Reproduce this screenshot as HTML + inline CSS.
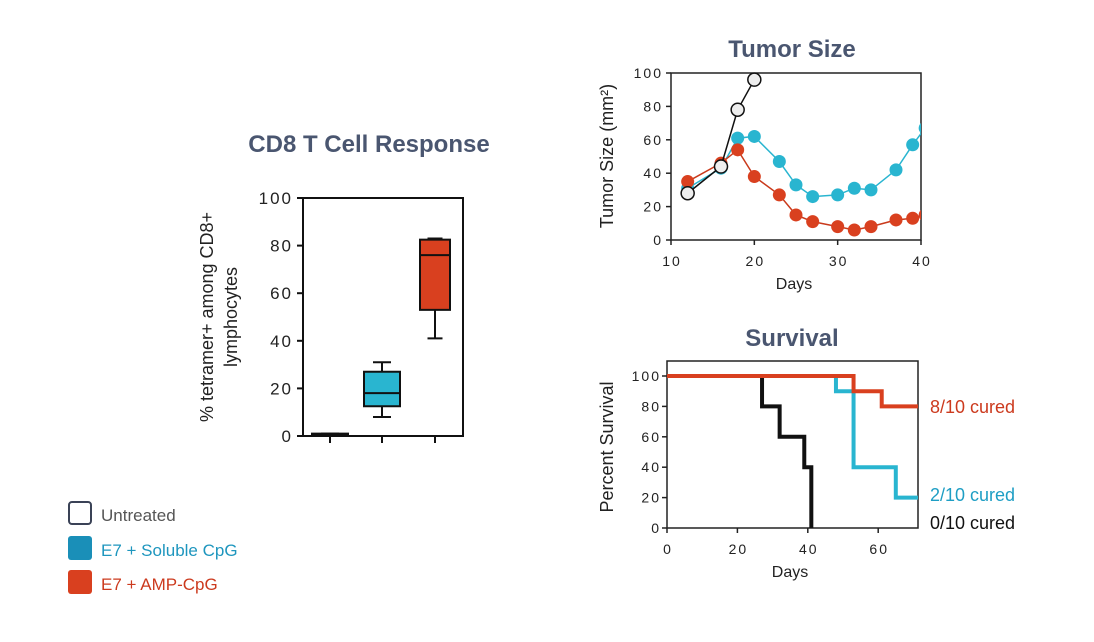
<!DOCTYPE html>
<html><head><meta charset="utf-8"><style>
html,body{margin:0;padding:0;background:#fff;}
svg{display:block;font-family:"Liberation Sans",sans-serif;}
.tick{font-size:14px;fill:#222;letter-spacing:2px;}
.ttl{font-size:24px;font-weight:bold;fill:#4a5670;}
</style></head><body>
<svg id="svg" width="1094" height="642" viewBox="0 0 1094 642">
<text class="ttl" x="369" y="152" text-anchor="middle">CD8 T Cell Response</text>
<text class="ttl" x="792" y="57" text-anchor="middle">Tumor Size</text>
<text class="ttl" x="792" y="346" text-anchor="middle">Survival</text>
<g id="box"></g>
<g id="tumor"></g>
<g id="surv"></g>
<g>
<rect x="69" y="502" width="22" height="22" rx="3" fill="#fff" stroke="#3a4256" stroke-width="2"/>
<text x="101" y="521" font-size="17" fill="#555">Untreated</text>
<rect x="68" y="536" width="24" height="24" rx="3" fill="#1a8fb8"/>
<text x="101" y="556" font-size="17" fill="#1e96be">E7 + Soluble CpG</text>
<rect x="68" y="570" width="24" height="24" rx="3" fill="#d9401f"/>
<text x="101" y="590" font-size="17" fill="#cc3a1e">E7 + AMP-CpG</text>
</g>
<text x="930" y="413" font-size="18" fill="#cc3a1e">8/10 cured</text>
<text x="930" y="501" font-size="18" fill="#1e9ec4">2/10 cured</text>
<text x="930" y="529" font-size="18" fill="#111">0/10 cured</text>
</svg>
<script>
// Box plot data
const boxGroups = ['Untreated','E7 + Soluble CpG','E7 + AMP-CpG'];
const boxMin = [0, 8, 41];
const boxQ1 = [0, 12.5, 53];
const boxMed = [0.5, 18, 76];
const boxQ3 = [1, 27, 82.5];
const boxMax = [1, 31, 83];
const boxTicks = [0,20,40,60,80,100];
// Tumor data
const tumorTicksX = [10,20,30,40];
const tumorTicksY = [0,20,40,60,80,100];
const untDays = [12,16,18,20];
const untSize = [28,44,78,96];
const solDays = [12,16,18,20,23,25,27,30,32,34,37,39,40.5];
const solSize = [31,43,61,62,47,33,26,27,31,30,42,57,67];
const ampDays = [12,16,18,20,23,25,27,30,32,34,37,39,40.5];
const ampSize = [35,46,54,38,27,15,11,8,6,8,12,13,15];
// Survival data (step curves)
const survTicksX = [0,20,40,60];
const survTicksY = [0,20,40,60,80,100];
const untSurvT = [0,27,32,39,41];
const untSurvP = [100,80,60,40,0];
const solSurvT = [0,48,53,65];
const solSurvP = [100,90,40,20];
const ampSurvT = [0,53,61];
const ampSurvP = [100,90,80];

const NS='http://www.w3.org/2000/svg';
function mk(parent,tag,attrs){const e=document.createElementNS(NS,tag);for(const k in attrs)e.setAttribute(k,attrs[k]);parent.appendChild(e);return e;}
const BLUE='#29b5d0', RED='#d9401f';

// ---- Box plot
(function(){
  const g=document.getElementById('box');
  const L=303,R=463,T=198,B=436;
  const y=v=>B-(v/100)*(B-T);
  const xs=[330,382,435], w=[36,36,30], fills=['#fff','#29b5d0','#d9401f'];
  let f=mk(g,'path',{d:`M${L},${T}H${R}V${B}H${L}Z`,fill:'none',stroke:'#111','stroke-width':2});
  
  boxTicks.forEach(t=>{
    let l=mk(g,'line',{x1:L-6,x2:L,y1:y(t),y2:y(t),stroke:'#111','stroke-width':2});
    
    let tx=mk(g,'text',{x:L-10,y:y(t)+6,'text-anchor':'end',class:'tick','font-size':'17'});
    tx.style.fontSize='17px';tx.textContent=t;
    
  });
  xs.forEach((x,i)=>{
    let l=mk(g,'line',{x1:x,x2:x,y1:B,y2:B+7,stroke:'#111','stroke-width':2});
    
    const hw=w[i]/2;
    let wk=mk(g,'path',{d:`M${x},${y(boxMin[i])}V${y(boxQ1[i])}M${x},${y(boxQ3[i])}V${y(boxMax[i])}M${x-hw/2},${y(boxMin[i])}H${x+hw/2}M${x-hw/2},${y(boxMax[i])}H${x+hw/2}`,stroke:'#111','stroke-width':2,fill:'none'});
    
    let r=mk(g,'rect',{x:x-hw,y:y(boxQ3[i]),width:w[i],height:Math.max(1,y(boxQ1[i])-y(boxQ3[i])),fill:fills[i],stroke:'#111','stroke-width':2});
    
    let m=mk(g,'line',{x1:x-hw,x2:x+hw,y1:y(boxMed[i]),y2:y(boxMed[i]),stroke:'#111','stroke-width':2});
    
  });
  let yt=mk(g,'text',{transform:'translate(213,317) rotate(-90)','text-anchor':'middle','font-size':'18',fill:'#222'});
  
  let t1=mk(yt,'tspan',{x:0,y:0});t1.textContent='% tetramer+ among CD8+';
  let t2=mk(yt,'tspan',{x:0,y:24});t2.textContent='lymphocytes';
})();

// ---- Tumor chart
(function(){
  const g=document.getElementById('tumor');
  const L=671,R=921,T=73,B=240;
  const x=v=>L+(v-10)/30*(R-L), y=v=>B-v/100*(B-T);
  const cp=mk(g,'clipPath',{id:'tc'});mk(cp,'rect',{x:L-8,y:T-10,width:R-L+8,height:B-T+20});
  let f=mk(g,'path',{d:`M${L},${T}H${R}V${B}H${L}Z`,fill:'none',stroke:'#222','stroke-width':1.5});
  
  tumorTicksY.forEach(t=>{
    let l=mk(g,'line',{x1:L-5,x2:L,y1:y(t),y2:y(t),stroke:'#222','stroke-width':1.5});
    
    let tx=mk(g,'text',{x:L-8,y:y(t)+5,'text-anchor':'end',class:'tick'});tx.textContent=t;
    
  });
  tumorTicksX.forEach(t=>{
    let l=mk(g,'line',{x1:x(t),x2:x(t),y1:B,y2:B+5,stroke:'#222','stroke-width':1.5});
    
    let tx=mk(g,'text',{x:x(t)+1,y:B+26,'text-anchor':'middle',class:'tick'});tx.textContent=t;
    
  });
  const cg=mk(g,'g',{'clip-path':'url(#tc)'});
  function series(ds,vs,col,fill,stroke,name){
    let p=mk(cg,'polyline',{points:ds.map((d,i)=>x(d)+','+y(vs[i])).join(' '),fill:'none',stroke:col,'stroke-width':1.5});
    
    ds.forEach((d,i)=>{
      let c=mk(cg,'circle',{cx:x(d),cy:y(vs[i]),r:6.5,fill:fill,stroke:stroke,'stroke-width':stroke=='none'?0:1.5});
      
    });
  }
  series(solDays,solSize,BLUE,BLUE,'none','soluble');
  series(ampDays,ampSize,'#c93a1c',RED,'none','amp');
  series(untDays,untSize,'#111','#eee','#111','untreated');
  let xt=mk(g,'text',{x:794,y:289,'text-anchor':'middle','font-size':'16',fill:'#222'});xt.textContent='Days';
  
  let yt=mk(g,'text',{transform:'translate(613,156) rotate(-90)','text-anchor':'middle','font-size':'18',fill:'#222'});
  yt.textContent='Tumor Size (mm²)';
  
})();

// ---- Survival chart
(function(){
  const g=document.getElementById('surv');
  const L=667,R=918,T=361,B=528;
  const x=v=>L+v*3.52, y=v=>B-v/100*(B-376);
  let f=mk(g,'path',{d:`M${L},${T}H${R}V${B}H${L}Z`,fill:'none',stroke:'#222','stroke-width':1.5});
  
  survTicksY.forEach(t=>{
    let l=mk(g,'line',{x1:L-5,x2:L,y1:y(t),y2:y(t),stroke:'#222','stroke-width':1.5});
    
    let tx=mk(g,'text',{x:L-6,y:y(t)+5,'text-anchor':'end',class:'tick'});tx.textContent=t;
    
  });
  survTicksX.forEach(t=>{
    let l=mk(g,'line',{x1:x(t),x2:x(t),y1:B,y2:B+5,stroke:'#222','stroke-width':1.5});
    
    let tx=mk(g,'text',{x:x(t)+1,y:B+26,'text-anchor':'middle',class:'tick'});tx.textContent=t;
    
  });
  function step(ts,ps,col,name,endT){
    let d=`M${x(ts[0])},${y(ps[0])}`;
    for(let i=1;i<ts.length;i++){d+=`H${x(ts[i])}V${y(ps[i])}`;}
    if(ps[ps.length-1]>0)d+=`H${R}`;
    let p=mk(g,'path',{d:d,fill:'none',stroke:col,'stroke-width':4});
    
  }
  step(untSurvT,untSurvP,'#111','untreated');
  step(solSurvT,solSurvP,BLUE,'soluble');
  step(ampSurvT,ampSurvP,RED,'amp');
  let xt=mk(g,'text',{x:790,y:577,'text-anchor':'middle','font-size':'16',fill:'#222'});xt.textContent='Days';
  
  let yt=mk(g,'text',{transform:'translate(613,447) rotate(-90)','text-anchor':'middle','font-size':'18',fill:'#222'});
  yt.textContent='Percent Survival';
  
})();
</script>
</body></html>
